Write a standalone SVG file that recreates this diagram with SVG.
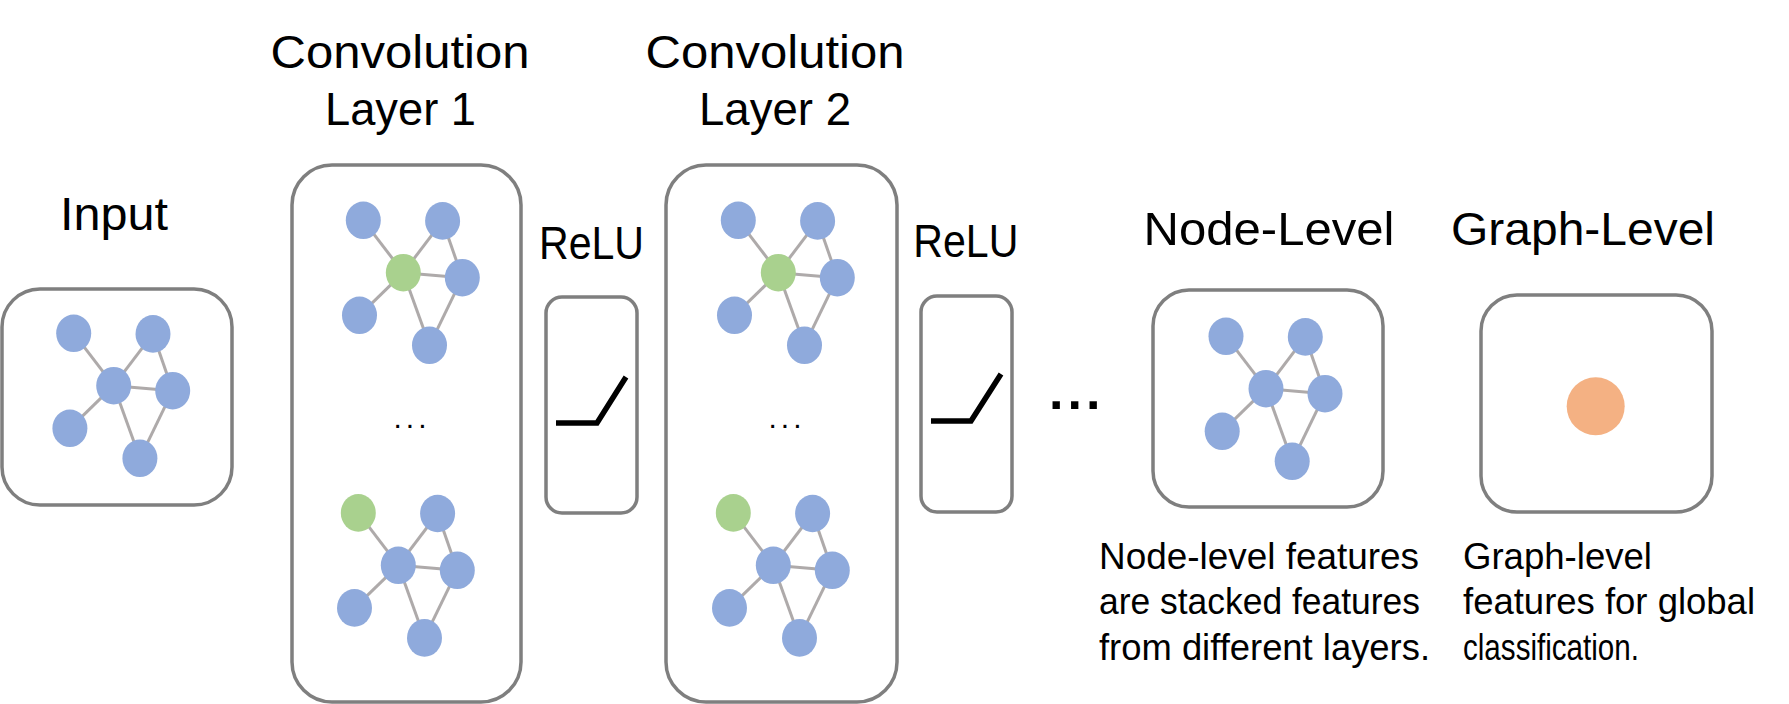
<svg xmlns="http://www.w3.org/2000/svg" xmlns:xlink="http://www.w3.org/1999/xlink" width="1789" height="704" viewBox="0 0 1789 704">
<style>
.box{fill:#FFFFFF;stroke:#7F7F7F;stroke-width:3.5}
.edge line{stroke:#AEAAAA;stroke-width:3}
.blue{fill:#8FAADC}
.green{fill:#A9D18E}
.orange{fill:#F4B183}
.relu{fill:none;stroke:#000000;stroke-width:5.5;stroke-linejoin:miter}
.title{font-family:"Liberation Sans",Arial,sans-serif;font-size:47px;fill:#000000;text-anchor:middle}
.desc{font-family:"Liberation Sans",Arial,sans-serif;font-size:36px;fill:#000000}
.dots{font-family:"Liberation Sans",Arial,sans-serif;font-size:30px;letter-spacing:4px;fill:#000000;text-anchor:middle}
.bigdots{font-family:"Liberation Sans",Arial,sans-serif;font-size:52px;font-weight:bold;letter-spacing:4px;fill:#000000}
</style>
<defs>
<g id="edges" class="edge">
<line x1="-40" y1="-52.4" x2="0" y2="0"/>
<line x1="39.3" y1="-51.8" x2="0" y2="0"/>
<line x1="0" y1="0" x2="59" y2="5"/>
<line x1="39.3" y1="-51.8" x2="59" y2="5"/>
<line x1="0" y1="0" x2="-43.8" y2="42.6"/>
<line x1="0" y1="0" x2="26.2" y2="72.6"/>
<line x1="59" y1="5" x2="26.2" y2="72.6"/>
</g>
</defs>

<g id="input">
<text class="title" x="114" y="229.5" textLength="108" lengthAdjust="spacingAndGlyphs">Input</text>
<rect class="box" x="2" y="289" width="230" height="216" rx="38" ry="38"/>
<g transform="translate(113.7,385.7)">
<use xlink:href="#edges"/>
<ellipse class="blue" cx="-40" cy="-52.4" rx="17.5" ry="18.8"/>
<ellipse class="blue" cx="39.3" cy="-51.8" rx="17.5" ry="18.8"/>
<ellipse class="blue" cx="0" cy="0" rx="17.5" ry="18.8"/>
<ellipse class="blue" cx="59" cy="5" rx="17.5" ry="18.8"/>
<ellipse class="blue" cx="-43.8" cy="42.6" rx="17.5" ry="18.8"/>
<ellipse class="blue" cx="26.2" cy="72.6" rx="17.5" ry="18.8"/>
</g>
</g>

<g id="conv1">
<text class="title" x="400" y="68" textLength="259" lengthAdjust="spacingAndGlyphs">Convolution</text>
<text class="title" x="400.5" y="125" textLength="151" lengthAdjust="spacingAndGlyphs">Layer 1</text>
<rect class="box" x="292" y="165" width="229" height="537" rx="40" ry="40"/>
<g transform="translate(403.3,272.7)">
<use xlink:href="#edges"/>
<ellipse class="blue" cx="-40" cy="-52.4" rx="17.5" ry="18.8"/>
<ellipse class="blue" cx="39.3" cy="-51.8" rx="17.5" ry="18.8"/>
<ellipse class="green" cx="0" cy="0" rx="17.5" ry="18.8"/>
<ellipse class="blue" cx="59" cy="5" rx="17.5" ry="18.8"/>
<ellipse class="blue" cx="-43.8" cy="42.6" rx="17.5" ry="18.8"/>
<ellipse class="blue" cx="26.2" cy="72.6" rx="17.5" ry="18.8"/>
</g>
<text class="dots" x="412" y="428">...</text>
<g transform="translate(398.3,565.3)">
<use xlink:href="#edges"/>
<ellipse class="green" cx="-40" cy="-52.4" rx="17.5" ry="18.8"/>
<ellipse class="blue" cx="39.3" cy="-51.8" rx="17.5" ry="18.8"/>
<ellipse class="blue" cx="0" cy="0" rx="17.5" ry="18.8"/>
<ellipse class="blue" cx="59" cy="5" rx="17.5" ry="18.8"/>
<ellipse class="blue" cx="-43.8" cy="42.6" rx="17.5" ry="18.8"/>
<ellipse class="blue" cx="26.2" cy="72.6" rx="17.5" ry="18.8"/>
</g>
</g>

<g id="relu1">
<text class="title" x="591.5" y="259" textLength="105" lengthAdjust="spacingAndGlyphs">ReLU</text>
<rect class="box" x="546" y="297" width="91" height="216" rx="16" ry="16"/>
<polyline class="relu" points="556,423 597,423 626,377"/>
</g>

<g id="conv2">
<text class="title" x="775" y="68" textLength="259" lengthAdjust="spacingAndGlyphs">Convolution</text>
<text class="title" x="775" y="125" textLength="152" lengthAdjust="spacingAndGlyphs">Layer 2</text>
<rect class="box" x="666" y="165" width="231" height="537" rx="40" ry="40"/>
<g transform="translate(778.3,272.7)">
<use xlink:href="#edges"/>
<ellipse class="blue" cx="-40" cy="-52.4" rx="17.5" ry="18.8"/>
<ellipse class="blue" cx="39.3" cy="-51.8" rx="17.5" ry="18.8"/>
<ellipse class="green" cx="0" cy="0" rx="17.5" ry="18.8"/>
<ellipse class="blue" cx="59" cy="5" rx="17.5" ry="18.8"/>
<ellipse class="blue" cx="-43.8" cy="42.6" rx="17.5" ry="18.8"/>
<ellipse class="blue" cx="26.2" cy="72.6" rx="17.5" ry="18.8"/>
</g>
<text class="dots" x="787" y="428">...</text>
<g transform="translate(773.3,565.3)">
<use xlink:href="#edges"/>
<ellipse class="green" cx="-40" cy="-52.4" rx="17.5" ry="18.8"/>
<ellipse class="blue" cx="39.3" cy="-51.8" rx="17.5" ry="18.8"/>
<ellipse class="blue" cx="0" cy="0" rx="17.5" ry="18.8"/>
<ellipse class="blue" cx="59" cy="5" rx="17.5" ry="18.8"/>
<ellipse class="blue" cx="-43.8" cy="42.6" rx="17.5" ry="18.8"/>
<ellipse class="blue" cx="26.2" cy="72.6" rx="17.5" ry="18.8"/>
</g>
</g>

<g id="relu2">
<text class="title" x="965.8" y="257" textLength="105" lengthAdjust="spacingAndGlyphs">ReLU</text>
<rect class="box" x="921" y="296" width="91" height="216" rx="16" ry="16"/>
<polyline class="relu" points="931,421 971,421 1001,374"/>
</g>

<g id="ellipsis">
<text class="bigdots" x="1049" y="408.5">...</text>
</g>

<g id="node-level">
<text class="title" x="1269" y="245" textLength="251" lengthAdjust="spacingAndGlyphs">Node-Level</text>
<rect class="box" x="1153" y="290" width="230" height="217" rx="36" ry="36"/>
<g transform="translate(1266,388.7)">
<use xlink:href="#edges"/>
<ellipse class="blue" cx="-40" cy="-52.4" rx="17.5" ry="18.8"/>
<ellipse class="blue" cx="39.3" cy="-51.8" rx="17.5" ry="18.8"/>
<ellipse class="blue" cx="0" cy="0" rx="17.5" ry="18.8"/>
<ellipse class="blue" cx="59" cy="5" rx="17.5" ry="18.8"/>
<ellipse class="blue" cx="-43.8" cy="42.6" rx="17.5" ry="18.8"/>
<ellipse class="blue" cx="26.2" cy="72.6" rx="17.5" ry="18.8"/>
</g>
<text class="desc" x="1099" y="569" textLength="320" lengthAdjust="spacingAndGlyphs">Node-level features</text>
<text class="desc" x="1099" y="614" textLength="321" lengthAdjust="spacingAndGlyphs">are stacked features</text>
<text class="desc" x="1099" y="659.5" textLength="331" lengthAdjust="spacingAndGlyphs">from different layers.</text>
</g>

<g id="graph-level">
<text class="title" x="1583" y="245" textLength="264" lengthAdjust="spacingAndGlyphs">Graph-Level</text>
<rect class="box" x="1481" y="295" width="231" height="217" rx="36" ry="36"/>
<circle class="orange" cx="1595.7" cy="406.3" r="29"/>
<text class="desc" x="1463" y="569" textLength="189" lengthAdjust="spacingAndGlyphs">Graph-level</text>
<text class="desc" x="1463" y="614" textLength="292" lengthAdjust="spacingAndGlyphs">features for global</text>
<text class="desc" x="1463" y="659.5" textLength="176" lengthAdjust="spacingAndGlyphs">classification.</text>
</g>

<g id="connectors"></g>
</svg>
